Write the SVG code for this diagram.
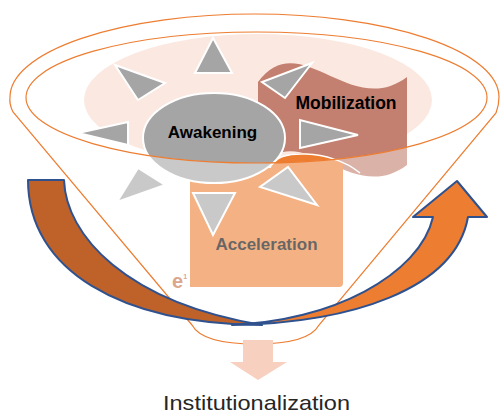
<svg xmlns="http://www.w3.org/2000/svg" width="500" height="413" viewBox="0 0 500 413">
<style>
.ray{fill:#A5A5A5;stroke:#FFFFFF;stroke-width:2;stroke-linejoin:miter}
.lbl{font-family:"Liberation Sans",Arial,sans-serif;font-weight:bold;font-size:17px;fill:#000000;text-anchor:middle}
.funnel{fill:none;stroke:#ED7D31;stroke-width:1.2}
.arr{stroke:#2F528F;stroke-width:2;stroke-linejoin:round}
</style>
<rect width="500" height="413" fill="#FFFFFF"/>
<g id="background">
<ellipse cx="258" cy="100" rx="174" ry="66" fill="#FBE9E1"/>
</g>
<g id="mobilization">
<path d="M258,82 C300,25 350,120 407,77 L407,165 C350,208 300,113 258,170 Z" fill="#C37F6F"/>
<text class="lbl" x="346" y="109" style="font-size:17.5px">Mobilization</text>
</g>
<g id="acceleration">
<path d="M190,168 L343,168 L343,283 Q343,287 339,287 L190,287 Z" fill="#ED7D31"/>
<path d="M270,170 C276,150 320,148 343,164 L343,170 Z" fill="#ED7D31" stroke="none"/>
<path d="M270,165 C276,150 330,148 360,173" fill="none" stroke="#FFFFFF" stroke-width="1.5"/>
<text class="lbl" x="266.5" y="250">Acceleration</text>
<text x="172" y="288" font-family="'Liberation Sans',Arial,sans-serif" font-weight="bold" font-size="20" fill="#C36B3E">e<tspan font-size="7" dy="-9">1</tspan></text>
</g>
<g id="awakening">
<ellipse cx="214" cy="138" rx="71" ry="45" fill="#A5A5A5" stroke="#FFFFFF" stroke-width="2"/>
<polygon class="ray" points="213,38 195,73 232,73"/>
<polygon class="ray" points="115,65 165,83 138,100"/>
<polygon class="ray" points="78,133 128,122 128,145"/>
<polygon class="ray" points="117,202 138,168 165,185"/>
<polygon class="ray" points="213,235 193,193 235,193"/>
<polygon class="ray" points="317,205 260,187 288,167"/>
<polygon class="ray" points="358,135 300,120 300,148"/>
<polygon class="ray" points="312,63 262,82 285,98"/>
<text class="lbl" x="212.5" y="138">Awakening</text>
</g>
<g id="funnel">
<path d="M192,325 L13,112 Q9,104 10,97 A244.5 83 0 0 1 499,97 Q499,105 496,113 L319,325 C312,338 290,344 255.5,344 C221,344 199,338 192,325 Z M26,97.5 A230.5 65.5 0 0 0 487,97.5 A230.5 65.5 0 0 0 26,97.5 Z" fill="#FFFFFF" fill-opacity="0.4" fill-rule="evenodd" stroke="none"/>
<path class="funnel" d="M192,325 L13,112 Q9,104 10,97 A244.5 83 0 0 1 499,97 Q499,105 496,113 L319,325 C312,338 290,344 255.5,344 C221,344 199,338 192,325 Z"/>
<ellipse class="funnel" cx="256.5" cy="97.5" rx="230.5" ry="65.5"/>
</g>
<g id="institutionalization">
<path d="M243,340 L273,340 L273,362 L287,362 L258,380 L230,362 L243,362 Z" fill="#F8D0C0"/>
<text x="256.5" y="410" font-family="'Liberation Sans',Arial,sans-serif" font-size="21" fill="#262626" text-anchor="middle" textLength="187" lengthAdjust="spacingAndGlyphs">Institutionalization</text>
</g>
<g id="connectors">
<path class="arr" d="M28,180 L64,180 C66,235 125,302 262,325 C120,324 28,270 28,180 Z" fill="#BE6229"/>
<path class="arr" d="M232,325 C350,323 455,290 468,217 L487,217 L457,181 L413,217 L433,217 C420,275 330,322 232,324.5 Z" fill="#ED7D31"/>
</g>
</svg>
